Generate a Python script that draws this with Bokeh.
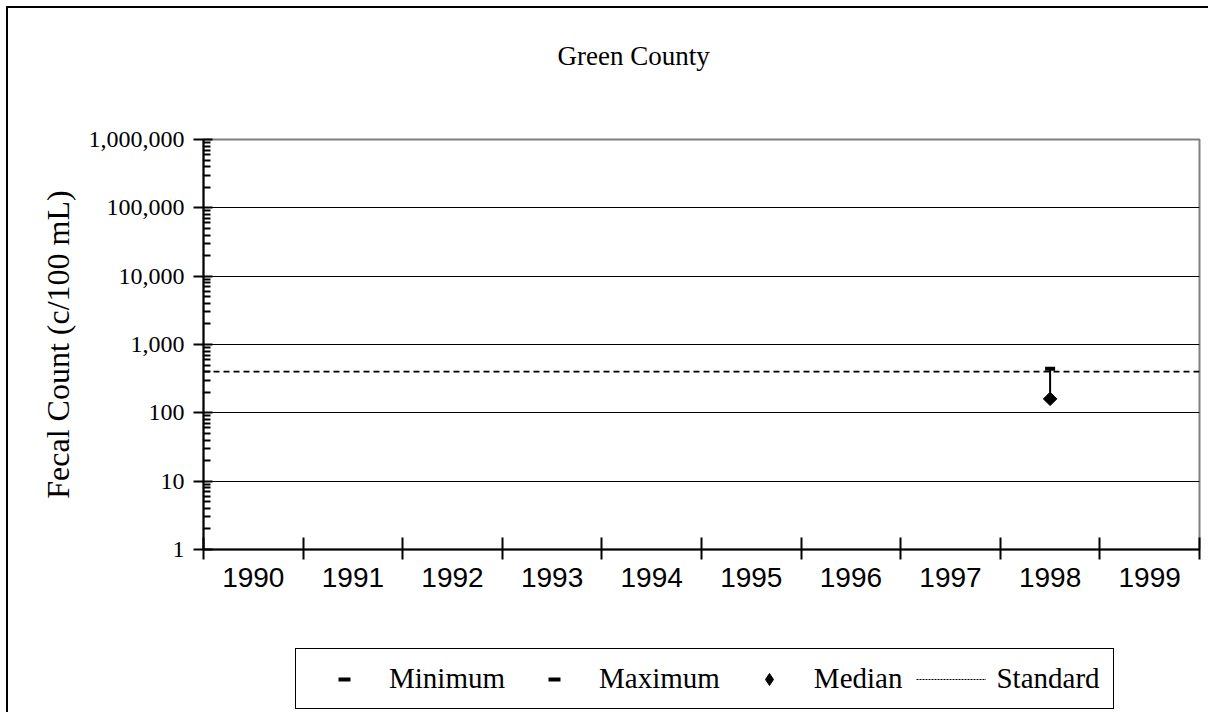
import math
from bokeh.plotting import figure
from bokeh.layouts import column
from bokeh.models import Range1d, FixedTicker, Legend, LegendItem, Title
from bokeh.embed import file_html
from bokeh.resources import INLINE

# ---------------- data ----------------
title_text = "Green County"
y_axis_title = "Fecal Count (c/100 mL)"
years = ["1990", "1991", "1992", "1993", "1994", "1995", "1996", "1997", "1998", "1999"]
sample_years = ["1998"]
minimum = [160]
maximum = [440]
median = [160]
standard = 400
y_ticks = [1, 10, 100, 1000, 10000, 100000, 1000000]
y_tick_labels = ["1", "10", "100", "1,000", "10,000", "100,000", "1,000,000"]
legend_labels = ["Minimum", "Maximum", "Median", "Standard"]

# ---------------- main figure ----------------
p = figure(width=1200, height=600, title=None,
           x_range=Range1d(0, len(years)), y_range=Range1d(y_ticks[0], y_ticks[-1]),
           y_axis_type="log", output_backend="svg", toolbar_location=None,
           min_border_left=195, min_border_right=9, min_border_top=131, min_border_bottom=59)
p.background_fill_color = "white"
p.border_fill_color = "white"
p.outline_line_color = "#808080"
p.outline_line_width = 2

xs = [years.index(y) + 0.5 for y in sample_years]

p.line([0, len(years)], [standard, standard], line_color="black",
       line_width=1.8, line_dash="6 4")
p.segment(x0=xs, y0=minimum, x1=xs, y1=maximum, line_color="black", line_width=2)
p.scatter(xs, minimum, marker="dash", size=10, line_width=4, color="black")
p.scatter(xs, maximum, marker="dash", size=10, line_width=4, color="black")
p.scatter(xs, median, marker="square", angle=math.pi / 4, size=9.5, color="black")

# x axis
xa = p.xaxis[0]
xa.ticker = FixedTicker(ticks=[i + 0.5 for i in range(len(years))],
                        minor_ticks=list(range(len(years) + 1)))
xa.major_label_overrides = {i + 0.5: y for i, y in enumerate(years)}
xa.major_tick_line_color = None
xa.major_tick_in = 0
xa.major_tick_out = 0
xa.minor_tick_in = 12
xa.minor_tick_out = 10
xa.minor_tick_line_width = 2
xa.minor_tick_line_color = "black"
xa.axis_line_width = 2
xa.axis_line_color = "black"
xa.major_label_text_font = "Liberation Sans"
xa.major_label_text_font_size = "28px"
xa.major_label_text_color = "black"
xa.major_label_standoff = 8

# y axis
ya = p.yaxis[0]
ya.ticker = FixedTicker(ticks=y_ticks,
                        minor_ticks=[m * t for t in y_ticks[:-1] for m in range(2, 10)])
ya.major_label_overrides = {t: l for t, l in zip(y_ticks, y_tick_labels)}
ya.major_tick_in = 9
ya.major_tick_out = 10
ya.major_tick_line_width = 2
ya.minor_tick_in = 7
ya.minor_tick_out = 0
ya.minor_tick_line_width = 2
ya.minor_tick_line_color = "black"
ya.axis_line_width = 2
ya.axis_line_color = "black"
ya.major_label_text_font = "Liberation Serif"
ya.major_label_text_font_size = "24px"
ya.major_label_text_color = "black"
ya.major_label_standoff = 9
ya.axis_label = y_axis_title
ya.axis_label_text_font = "Liberation Serif"
ya.axis_label_text_font_size = "32px"
ya.axis_label_text_font_style = "normal"
ya.axis_label_text_color = "black"
ya.axis_label_standoff = 10

p.xgrid.visible = False
p.ygrid.grid_line_color = "black"
p.ygrid.grid_line_width = 1

# titles: a blank spacer next to the frame, then the real title
p.add_layout(Title(text=" ", text_font_size="10px", standoff=51), "above")
p.add_layout(Title(text=title_text, text_font="Liberation Serif", text_font_size="27px",
                   text_font_style="normal", text_color="black", align="left",
                   offset=354, standoff=10), "above")

# ---------------- legend figure ----------------
lf = figure(width=1200, height=104, x_range=Range1d(0, 1), y_range=Range1d(0, 1),
            x_axis_location=None, y_axis_location=None, output_backend="svg",
            toolbar_location=None, min_border=0)
lf.outline_line_color = None
lf.background_fill_color = "white"
lf.border_fill_color = "white"
lf.xgrid.visible = False
lf.ygrid.visible = False

l_min = lf.scatter(xs, minimum, marker="dash", size=10, line_width=4, color="black")
l_max = lf.scatter(xs, maximum, marker="dash", size=10, line_width=4, color="black")
l_med = lf.scatter(xs, median, marker="diamond", size=14, color="black")
l_std = lf.line([0, len(years)], [standard, standard], line_color="black",
                line_width=1, line_dash="2 1")

legend = Legend(items=[LegendItem(label=lab, renderers=[r])
                       for lab, r in zip(legend_labels, [l_min, l_max, l_med, l_std])],
                orientation="horizontal", location=(92, 3),
                border_line_color="black", border_line_width=1.5, border_line_alpha=1.0,
                padding=13, spacing=14, glyph_width=70, glyph_height=30,
                label_standoff=10, label_text_font="Liberation Serif",
                label_text_font_size="29px", label_text_color="black",
                margin=0, background_fill_color="white", background_fill_alpha=1)
lf.add_layout(legend)

layout = column(p, lf, spacing=0)
layout.styles = {"border-left": "2px solid black", "border-top": "2px solid black",
                 "border-right": "none", "border-bottom": "none",
                 "margin-left": "6px", "margin-top": "6px"}
open("out.html", "w").write(file_html(layout, INLINE))
